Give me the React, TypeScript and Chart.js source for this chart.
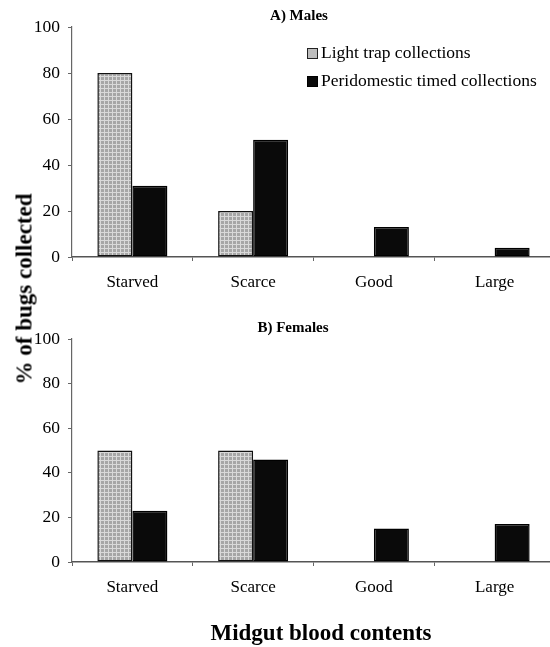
import React, { useEffect, useRef } from "react";
import { Chart, registerables } from "chart.js";

Chart.register(...registerables);

const categories = ["Starved", "Scarce", "Good", "Large"];
const seriesNames = ["Light trap collections", "Peridomestic timed collections"];
const malesLightTrap = [80, 20, 0, 0];
const malesPeridomestic = [31, 51, 13, 4];
const femalesLightTrap = [50, 50, 0, 0];
const femalesPeridomestic = [23, 46, 15, 17];
const yTicks = [0, 20, 40, 60, 80, 100];
const panelTitles = ["A) Males", "B) Females"];
const yAxisTitle = "% of bugs collected";
const xAxisTitle = "Midgut blood contents";

const FONT = "'Liberation Serif', 'Times New Roman', Times, serif";

function makePattern(): CanvasPattern | string {
  const c = document.createElement("canvas");
  c.width = 4;
  c.height = 4;
  const ctx = c.getContext("2d");
  if (!ctx) return "#bdbdbd";
  ctx.fillStyle = "#a6a6a6";
  ctx.fillRect(0, 0, 4, 4);
  ctx.fillStyle = "#d9d9d9";
  ctx.fillRect(0, 0, 4, 1);
  ctx.fillRect(0, 0, 1, 4);
  const p = ctx.createPattern(c, "repeat");
  return p || "#bdbdbd";
}

function buildChart(
  canvas: HTMLCanvasElement,
  light: number[],
  dark: number[],
  plotTop: number,
  plotBottom: number,
  height: number
) {
  const pattern = makePattern();
  return new Chart(canvas, {
    type: "bar",
    data: {
      labels: categories,
      datasets: [
        {
          label: seriesNames[0],
          data: light,
          backgroundColor: pattern as any,
          borderColor: "#111",
          borderWidth: 1.5,
          borderSkipped: false,
          categoryPercentage: 0.58,
          barPercentage: 1.0,
        },
        {
          label: seriesNames[1],
          data: dark,
          backgroundColor: "#0a0a0a",
          borderColor: "#000",
          borderWidth: 1.5,
          borderSkipped: false,
          categoryPercentage: 0.58,
          barPercentage: 1.0,
        },
      ],
    },
    options: {
      responsive: false,
      animation: false,
      events: [],
      layout: { padding: { left: 0, right: 5, top: plotTop, bottom: 0 } },
      plugins: {
        legend: { display: false },
        title: { display: false },
        tooltip: { enabled: false },
      },
      scales: {
        x: {
          offset: true,
          grid: {
            display: true,
            drawOnChartArea: false,
            drawTicks: true,
            tickLength: 4,
            color: "#666",
            lineWidth: 1,
            offset: true,
          },
          border: { display: true, color: "#555", width: 1.5 },
          ticks: {
            color: "#000",
            padding: 11,
            font: { family: FONT, size: 17 },
            maxRotation: 0,
          },
          afterFit: (s: any) => {
            s.height = height - plotBottom;
          },
        },
        y: {
          min: yTicks[0],
          max: yTicks[yTicks.length - 1],
          ticks: {
            stepSize: yTicks[1] - yTicks[0],
            color: "#000",
            padding: 8,
            font: { family: FONT, size: 17.5 },
          },
          grid: {
            display: true,
            drawOnChartArea: false,
            drawTicks: true,
            tickLength: 4,
            color: "#666",
          },
          border: { display: true, color: "#666", width: 1.2 },
          afterFit: (s: any) => {
            s.width = 72;
          },
        },
      },
    },
  });
}

const abs = (extra: React.CSSProperties): React.CSSProperties => ({
  position: "absolute",
  fontFamily: FONT,
  color: "#000",
  whiteSpace: "nowrap",
  lineHeight: 1,
  ...extra,
});

export default function App() {
  const topRef = useRef<HTMLCanvasElement | null>(null);
  const botRef = useRef<HTMLCanvasElement | null>(null);

  useEffect(() => {
    const charts: Chart[] = [];
    if (topRef.current) charts.push(buildChart(topRef.current, malesLightTrap, malesPeridomestic, 27, 257, 300));
    if (botRef.current) charts.push(buildChart(botRef.current, femalesLightTrap, femalesPeridomestic, 39, 262, 347));
    return () => charts.forEach((c) => c.destroy());
  }, []);

  return (
    <div
      style={{
        position: "fixed",
        left: 0,
        top: 0,
        width: 550,
        height: 647,
        overflow: "hidden",
        background: "#fff",
      }}
    >
      <canvas ref={topRef} width={560} height={300} style={{ position: "absolute", left: 0, top: 0, width: 560, height: 300 }} />
      <canvas ref={botRef} width={560} height={347} style={{ position: "absolute", left: 0, top: 300, width: 560, height: 347 }} />

      <div style={abs({ left: 299, top: 15, transform: "translate(-50%, -50%)", fontSize: 15, fontWeight: "bold" })}>
        {panelTitles[0]}
      </div>
      <div style={abs({ left: 293, top: 327, transform: "translate(-50%, -50%)", fontSize: 15, fontWeight: "bold" })}>
        {panelTitles[1]}
      </div>

      <div style={abs({ left: 307, top: 48, width: 9, height: 9, border: "1px solid #222", background: "#bdbdbd" })} />
      <div style={abs({ left: 321, top: 53, transform: "translateY(-50%)", fontSize: 17.5 })}>{seriesNames[0]}</div>
      <div style={abs({ left: 307, top: 76, width: 9, height: 9, border: "1px solid #000", background: "#0a0a0a" })} />
      <div style={abs({ left: 321, top: 81, transform: "translateY(-50%)", fontSize: 17.5 })}>{seriesNames[1]}</div>

      <div
        style={abs({
          left: 24,
          top: 289,
          transform: "translate(-50%, -50%) rotate(-90deg)",
          fontSize: 23,
          fontWeight: "bold",
        })}
      >
        {yAxisTitle}
      </div>
      <div style={abs({ left: 321, top: 632, transform: "translate(-50%, -50%)", fontSize: 23, fontWeight: "bold" })}>
        {xAxisTitle}
      </div>
    </div>
  );
}
